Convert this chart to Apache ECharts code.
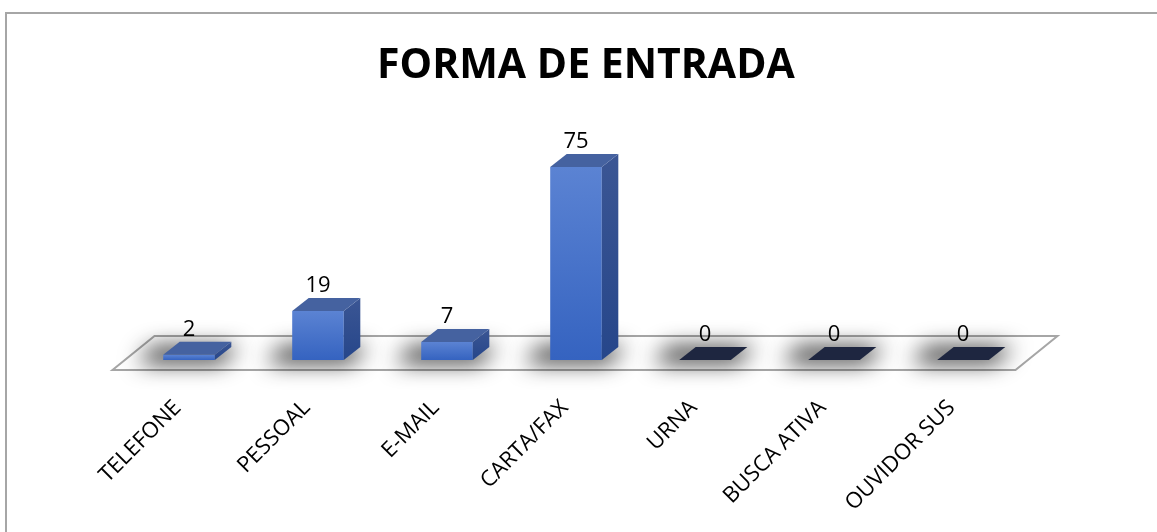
<!DOCTYPE html>
<html>
<head>
<meta charset="utf-8">
<script src="https://cdn.jsdelivr.net/npm/echarts@6/dist/echarts.min.js"></script>
<style>
  html, body { margin: 0; padding: 0; background: #fff; }
  #chart { width: 1157px; height: 532px; }
</style>
</head>
<body>
<div id="chart"></div>
<script>
const categories = ['TELEFONE', 'PESSOAL', 'E-MAIL', 'CARTA/FAX', 'URNA', 'BUSCA ATIVA', 'OUVIDOR SUS']
const values = [2, 19, 7, 75, 0, 0, 0]
const titleText = 'FORMA DE ENTRADA'

const fontFamily = '"Open Sans", "DejaVu Sans", sans-serif'
const barData = values.map((v, i) => [i, v])

// front face / side / top colours of the 3d columns
const frontFill = new echarts.graphic.LinearGradient(0, 0, 0, 1, [
  { offset: 0, color: '#5b83d3' },
  { offset: 1, color: '#3563c0' }
])
const sideFill = new echarts.graphic.LinearGradient(0, 0, 0, 1, [
  { offset: 0, color: '#3b5694' },
  { offset: 1, color: '#26468a' }
])

function barGeom (params, api) {
  const idx = api.value(0)
  const val = api.value(1)
  const base = api.coord([idx, 0])
  const top = api.coord([idx, val])
  const band = api.size([1, 0])[0]
  const w = band * 0.4
  return {
    val,
    cx: base[0],
    xl: base[0] - w / 2,
    xr: base[0] + w / 2,
    yb: base[1],
    yt: top[1],
    dx: band * 0.128,
    dy: 13
  }
}

function renderFloor (params, api) {
  const cs = params.coordSys
  const y0 = api.coord([0, 0])[1]
  const x0 = cs.x
  const x1 = cs.x + cs.width
  return {
    type: 'polygon',
    shape: {
      points: [[x0 - 12, y0 + 10], [x1 - 12, y0 + 10], [x1 + 30, y0 - 24], [x0 + 30, y0 - 24]]
    },
    style: { fill: '#ffffff', stroke: '#a6a6a6', lineWidth: 2 }
  }
}

// blurred floor shadow, drawn off-screen and shifted back with shadowOffsetX
function renderShadow (params, api) {
  const g = barGeom(params, api)
  const off = 3000
  const pts = [
    [g.xl - 26, g.yb + 3],
    [g.xr + 6, g.yb + 3],
    [g.xr + g.dx + 8, g.yb - g.dy],
    [g.xl - 26 + g.dx, g.yb - g.dy]
  ].map(p => [p[0] + off, p[1]])
  return {
    type: 'polygon',
    shape: { points: pts },
    style: {
      fill: '#000',
      shadowBlur: 22,
      shadowColor: 'rgba(0,0,0,0.85)',
      shadowOffsetX: -off
    }
  }
}

function renderBar (params, api) {
  const g = barGeom(params, api)
  const children = []
  if (g.val === 0) {
    children.push({
      type: 'polygon',
      shape: { points: [[g.xl, g.yb], [g.xr, g.yb], [g.xr + g.dx, g.yb - g.dy], [g.xl + g.dx, g.yb - g.dy]] },
      style: { fill: '#1e2640' }
    })
  } else {
    children.push({
      type: 'rect',
      shape: { x: g.xl, y: g.yt, width: g.xr - g.xl, height: g.yb - g.yt },
      style: { fill: frontFill }
    })
    children.push({
      type: 'polygon',
      shape: { points: [[g.xr, g.yb], [g.xr + g.dx, g.yb - g.dy], [g.xr + g.dx, g.yt - g.dy], [g.xr, g.yt]] },
      style: { fill: sideFill }
    })
    children.push({
      type: 'polygon',
      shape: { points: [[g.xl, g.yt], [g.xr, g.yt], [g.xr + g.dx, g.yt - g.dy], [g.xl + g.dx, g.yt - g.dy]] },
      style: { fill: '#4562a0' }
    })
  }
  children.push({
    type: 'text',
    style: {
      x: g.cx,
      y: g.yt - g.dy - 1,
      text: String(g.val),
      align: 'center',
      verticalAlign: 'bottom',
      fill: '#000',
      font: '22px ' + fontFamily
    }
  })
  return { type: 'group', children }
}

const chart = echarts.init(document.getElementById('chart'))
chart.setOption({
  animation: false,
  title: {
    text: titleText,
    left: 372,
    top: 41,
    textStyle: { fontSize: 41, fontWeight: 'bold', color: '#000', fontFamily }
  },
  graphic: [{
    type: 'rect',
    shape: { x: 6, y: 13, width: 1170, height: 540 },
    style: { fill: 'none', stroke: '#a6a6a6', lineWidth: 2 },
    z: -1
  }],
  grid: { left: 124.5, right: 129.5, top: 154, bottom: 172 },
  xAxis: {
    type: 'category',
    data: categories,
    axisLine: { show: false },
    axisTick: { show: false },
    axisLabel: {
      rotate: 45,
      margin: 33,
      padding: [0, 16, 0, 0],
      fontSize: 22,
      color: '#000',
      fontFamily,
      interval: 0
    }
  },
  yAxis: { type: 'value', min: 0, max: 80, show: false },
  series: [
    { type: 'custom', z: 1, clip: false, data: [[0, 0]], renderItem: renderFloor, silent: true },
    { type: 'custom', z: 2, clip: false, data: barData, renderItem: renderShadow, silent: true },
    { type: 'custom', z: 3, clip: false, data: barData, renderItem: renderBar }
  ]
})
</script>
</body>
</html>
